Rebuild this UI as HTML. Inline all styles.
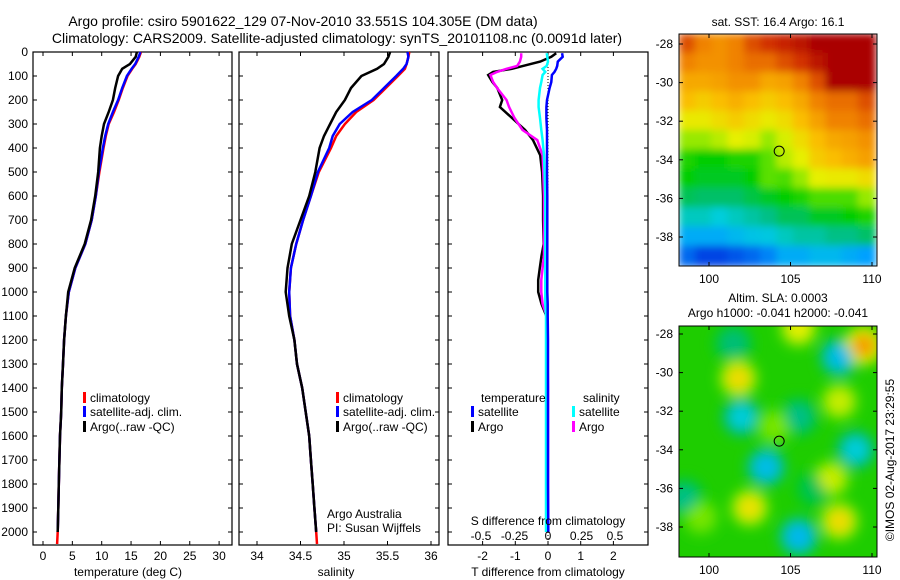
<!DOCTYPE html>
<html><head><meta charset="utf-8"><style>
body{margin:0;background:#fff}
svg{display:block;font-family:"Liberation Sans",sans-serif}
text{fill:#000}
</style></head><body>
<svg id="s" width="900" height="580" viewBox="0 0 900 580">
<defs>
<filter id="bl" x="-5%" y="-5%" width="110%" height="110%"><feGaussianBlur stdDeviation="4"/></filter>
<filter id="bl2" x="-5%" y="-5%" width="110%" height="110%"><feGaussianBlur stdDeviation="6"/></filter>
<clipPath id="c1"><rect x="679" y="34" width="198" height="232"/></clipPath>
<clipPath id="c2"><rect x="679" y="326" width="198" height="231"/></clipPath>
</defs>
<text x="303" y="26" font-size="14" text-anchor="middle">Argo profile: csiro 5901622_129 07-Nov-2010 33.551S 104.305E (DM data)</text>
<text x="337" y="43" font-size="14" text-anchor="middle">Climatology: CARS2009. Satellite-adjusted climatology: synTS_20101108.nc (0.0091d later)</text>
<g id="g"></g>
</svg>
<script>
// ---- data ----
const depths=[0,20,50,70,100,150,200,250,300,350,400,500,600,700,800,900,1000,1100,1200,1300,1400,1500,1600,1700,1800,1900,2000,2050];
const tempClim=[16.7,16.4,15.8,15.2,14.4,13.6,12.9,12.1,11.2,10.7,10.3,9.6,9.0,8.3,7.2,5.5,4.4,3.9,3.6,3.4,3.2,3.1,2.9,2.8,2.7,2.6,2.5,2.4];
const tempSat=[16.6,16.3,15.7,15.1,14.3,13.5,12.8,11.9,11.1,10.6,10.2,9.5,9.0,8.3,7.2,5.5,4.4,3.9,3.6,3.4,3.2,3.1,2.9,2.8,2.7,2.6,2.5,null];
const tempArgo=[16.0,15.8,14.8,13.5,12.8,12.3,11.9,11.2,10.4,10.0,9.7,9.4,8.9,8.2,7.1,5.4,4.3,3.9,3.6,3.4,3.2,3.1,2.9,2.8,2.7,2.6,2.5,null];
const salClim=[35.75,35.74,35.72,35.70,35.62,35.48,35.34,35.14,35.01,34.91,34.85,34.71,34.62,34.53,34.45,34.39,34.37,34.38,34.43,34.46,34.52,34.56,34.6,34.62,34.64,34.66,34.68,34.69];
const salSat=[35.73,35.74,35.72,35.68,35.6,35.46,35.32,35.1,34.95,34.87,34.83,34.70,34.62,34.53,34.45,34.39,34.37,34.38,34.43,34.46,34.52,34.56,34.6,34.62,34.64,34.66,34.68,null];
const salArgo=[35.53,35.51,35.46,35.38,35.2,35.08,35.01,34.91,34.84,34.77,34.72,34.67,34.6,34.5,34.4,34.35,34.33,34.37,34.43,34.46,34.52,34.56,34.6,34.62,34.64,34.66,34.68,null];
const diffDepths=[5,20,40,58,70,83,96,125,150,200,229,275,325,367,430,500,600,700,800,850,900,950,1000,1050,1100,1200,1400,1600,1800,2000];
const dTArgo=[0.25,0.1,-0.24,-0.76,-1.1,-1.68,-1.83,-1.7,-1.55,-1.4,-1.47,-1.1,-0.7,-0.46,-0.24,-0.18,-0.15,-0.15,-0.13,-0.2,-0.25,-0.3,-0.3,-0.2,-0.05,-0.03,-0.02,-0.02,-0.02,-0.02];
const dSArgo=[-0.2,-0.2,-0.21,-0.23,-0.31,-0.38,-0.43,-0.41,-0.38,-0.31,-0.29,-0.25,-0.19,-0.08,-0.04,-0.035,-0.03,-0.03,-0.03,-0.03,-0.04,-0.05,-0.05,-0.04,-0.01,-0.005,0,0,0,0];
const dTSat=[0.43,0.45,0.3,0.28,0.25,0.2,0.12,0.1,0.05,-0.03,-0.05,-0.05,-0.03,-0.03,-0.03,-0.03,-0.02,-0.02,-0.02,-0.02,-0.02,-0.02,-0.02,-0.01,-0.01,0,0,0,0,0.01];
const dSSat=[-0.01,-0.005,0,-0.01,-0.04,-0.02,-0.04,-0.05,-0.06,-0.07,-0.07,-0.06,-0.05,-0.04,-0.03,-0.025,-0.02,-0.02,-0.02,-0.02,-0.02,-0.02,-0.02,-0.02,-0.015,-0.015,-0.015,-0.015,-0.015,-0.015];
const depthTicks=[0,100,200,300,400,500,600,700,800,900,1000,1100,1200,1300,1400,1500,1600,1700,1800,1900,2000];
const tempTicks=[0,5,10,15,20,25,30];
const salTicks=[34,34.5,35,35.5,36];
const dTTicks=[-2,-1,0,1,2];
const dSTicks=[-0.5,-0.25,0,0.25,0.5];
const dSTickLabels=["-0.5","-0.25","0","0.25","0.5"];
const sstGrid=[
[0.85,0.8,0.78,0.8,0.85,0.88,0.9,0.92,0.95,0.95,0.95,0.95],
[0.8,0.78,0.78,0.8,0.82,0.82,0.85,0.88,0.92,0.95,0.95,0.95],
[0.75,0.75,0.76,0.78,0.78,0.75,0.76,0.8,0.85,0.95,0.95,0.95],
[0.72,0.7,0.72,0.74,0.72,0.7,0.72,0.75,0.8,0.82,0.82,0.85],
[0.66,0.66,0.68,0.7,0.68,0.66,0.68,0.72,0.76,0.8,0.8,0.82],
[0.6,0.6,0.62,0.65,0.64,0.6,0.64,0.68,0.72,0.75,0.76,0.78],
[0.52,0.5,0.5,0.52,0.52,0.56,0.62,0.65,0.7,0.72,0.74,0.76],
[0.5,0.48,0.48,0.48,0.5,0.56,0.55,0.6,0.65,0.66,0.66,0.68],
[0.45,0.44,0.44,0.44,0.46,0.48,0.5,0.52,0.55,0.55,0.55,0.6],
[0.38,0.38,0.36,0.38,0.4,0.42,0.45,0.45,0.48,0.48,0.5,0.52],
[0.3,0.3,0.3,0.32,0.34,0.35,0.38,0.4,0.4,0.42,0.42,0.44],
[0.22,0.18,0.18,0.2,0.22,0.25,0.3,0.3,0.32,0.32,0.3,0.28]];
const gridLon0=98.2, gridLat0=-27.5;
const slaBlobLon=[101.5,108,102,105.5,109,103.5,105.5,98.5,106.5,101.8,105.5,109.5,108,104,107.5,102.5,108,99.5];
const slaBlobLat=[-28.5,-29.2,-32.3,-32.3,-34,-34.9,-38.5,-36.5,-36,-30.3,-27.7,-28.6,-31.5,-32.8,-35.5,-37,-37.7,-37.5];
const slaBlobVal=[0.43,0.33,0.36,0.42,0.36,0.33,0.32,0.42,0.45,0.68,0.65,0.76,0.63,0.58,0.63,0.67,0.68,0.58];
const lonTicks=[100,105,110];
const latTicks=[-28,-30,-32,-34,-36,-38];
const argoLon=104.305, argoLat=-33.551;

// ---- helpers ----
const NS="http://www.w3.org/2000/svg", G=document.getElementById('g');
function el(tag,at,parent){const e=document.createElementNS(NS,tag);for(const k in at)e.setAttribute(k,at[k]);(parent||G).appendChild(e);return e;}
function txt(x,y,s,at){const e=el('text',Object.assign({x:x,y:y,'font-size':12},at||{}));e.textContent=s;return e;}
const yD=d=>52+d*0.24;
const xT=v=>43+v*5.87;
const xS=v=>257+(v-34)*87;
const xdT=v=>548+v*32.7;
const xdS=v=>548+v*134;
function line(vals,dep,xf,color,name){
  let p='';vals.forEach((v,i)=>{if(v===null)return;p+=(p?'L':'M')+xf(v).toFixed(1)+' '+yD(dep[i]).toFixed(1);});
  const e=el('path',{d:p,fill:'none',stroke:color,'stroke-width':2.5});
  
  
}
function panel(x0,x1,name,xticks,xf,labels,ylabels){
  const b=el('rect',{x:x0,y:52,width:x1-x0,height:493,fill:'none',stroke:'#000','stroke-width':1.2});
  
  
  depthTicks.forEach(d=>{const y=yD(d);
    el('line',{x1:x0,x2:x0+4,y1:y,y2:y,stroke:'#000'});el('line',{x1:x1-4,x2:x1,y1:y,y2:y,stroke:'#000'});
    if(ylabels){const t=txt(28,y+4,String(d),{'text-anchor':'end'});
      
      }});
  xticks.forEach((v,i)=>{const x=xf(v);
    el('line',{x1:x,x2:x,y1:545,y2:541,stroke:'#000'});el('line',{x1:x,x2:x,y1:52,y2:56,stroke:'#000'});
    const t=txt(x,560,labels[i],{'text-anchor':'middle'});
    
    });
}
function legendEntry(x,y,color,label,name){
  el('rect',{x:x,y:y-10,width:3,height:11,fill:color});
  const t=txt(x+7,y,label);
  
  
}

// ---- panel 1 temperature ----
panel(33,232,'temperature-panel',tempTicks,xT,tempTicks.map(String),true);
line(tempClim,depths,xT,'#ff0000','temp-climatology-line');
line(tempSat,depths,xT,'#0000ff','temp-satellite-line');
line(tempArgo,depths,xT,'#000000','temp-argo-line');
legendEntry(83,402,'#ff0000','climatology','legend-climatology');
legendEntry(83,416,'#0000ff','satellite-adj. clim.','legend-satellite');
legendEntry(83,431,'#000000','Argo(..raw -QC)','legend-argo');
let t=txt(128,576,'temperature (deg C)',{'text-anchor':'middle'});



// ---- panel 2 salinity ----
panel(239,439,'salinity-panel',salTicks,xS,salTicks.map(String),false);
line(salClim,depths,xS,'#ff0000','sal-climatology-line');
line(salSat,depths,xS,'#0000ff','sal-satellite-line');
line(salArgo,depths,xS,'#000000','sal-argo-line');
legendEntry(336,402,'#ff0000','climatology','legend-climatology-2');
legendEntry(336,416,'#0000ff','satellite-adj. clim.','legend-satellite-2');
legendEntry(336,431,'#000000','Argo(..raw -QC)','legend-argo-2');
t=txt(327,518,'Argo Australia');
t=txt(327,532,'PI: Susan Wijffels');
t=txt(336,576,'salinity',{'text-anchor':'middle'});



// ---- panel 3 differences ----
panel(448,648,'difference-panel',dTTicks,xdT,dTTicks.map(String),false);
el('line',{x1:548,x2:548,y1:52,y2:545,stroke:'#000','stroke-dasharray':'1,2'});
line(dTArgo,diffDepths,xdT,'#000000','dT-argo-line');
line(dSArgo,diffDepths,xdS,'#ff00ff','dS-argo-line');
line(dSSat,diffDepths,xdS,'#00ffff','dS-satellite-line');
line(dTSat,diffDepths,xdT,'#0000ff','dT-satellite-line');
t=txt(481,402,'temperature');
t=txt(583,402,'salinity');
legendEntry(471,416,'#0000ff','satellite','legend-t-satellite');
legendEntry(471,431,'#000000','Argo','legend-t-argo');
legendEntry(572,416,'#00ffff','satellite','legend-s-satellite');
legendEntry(572,431,'#ff00ff','Argo','legend-s-argo');
t=txt(548,525,'S difference from climatology',{'text-anchor':'middle'});
dSTicks.forEach((v,i)=>{const e=txt(xdS(v),540,dSTickLabels[i],{'text-anchor':'middle'});
  
  });
t=txt(548,576,'T difference from climatology',{'text-anchor':'middle'});

// ---- maps ----
const cmapStops=[[0,0,0,130],[0.15,0,40,220],[0.28,0,160,255],[0.36,0,205,220],[0.43,0,190,120],[0.5,0,205,0],[0.58,120,230,0],[0.65,230,240,0],[0.72,250,190,0],[0.8,240,130,0],[0.88,210,50,0],[0.95,170,0,0],[1,150,0,0]];
function jet(v){v=Math.max(0,Math.min(1,v));
  for(let i=1;i<cmapStops.length;i++){const a=cmapStops[i-1],b=cmapStops[i];
    if(v<=b[0]){const f=(v-a[0])/(b[0]-a[0]);
      return 'rgb('+[1,2,3].map(k=>Math.round(a[k]+(b[k]-a[k])*f)).join(',')+')';}}
  return 'rgb(150,0,0)';}
function mapAxes(y0,yTop,name){
  const xL=lon=>709+(lon-100)*16.3, yL=lat=>yTop+(-28-lat)*19.3;
  return {xL,yL,draw(){
    const h=(name==='sst-map'?232:231);
    const b=el('rect',{x:679,y:y0,width:198,height:h,fill:'none',stroke:'#000'});
    
    
    const yb=y0+h;
    lonTicks.forEach(l=>{const x=xL(l);el('line',{x1:x,x2:x,y1:yb,y2:yb-4,stroke:'#000'});el('line',{x1:x,x2:x,y1:y0,y2:y0+4,stroke:'#000'});
      const e=txt(x,yb+17,String(l),{'text-anchor':'middle'});
      
      });
    latTicks.forEach(l=>{const y=yL(l);el('line',{x1:679,x2:683,y1:y,y2:y,stroke:'#000'});el('line',{x1:873,x2:877,y1:y,y2:y,stroke:'#000'});
      const e=txt(673,y+4,String(l),{'text-anchor':'end'});
      
      });
    const c=el('ellipse',{cx:xL(argoLon),cy:yL(argoLat),rx:5,ry:5,fill:'none',stroke:'#000'});
    
    
  }};
}
// SST map
const m1=mapAxes(34,44,'sst-map');
const g1=el('g',{'clip-path':'url(#c1)'});
const g1b=el('g',{filter:'url(#bl)'},g1);
sstGrid.forEach((row,r)=>row.forEach((v,c)=>{
  const x=m1.xL(gridLon0+c), y=m1.yL(gridLat0-r);
  const e=el('rect',{x:x-1,y:y-1,width:18.3,height:21.3,fill:jet(v)},g1b);
  
  
}));
m1.draw();
t=txt(778,26,'sat. SST: 16.4 Argo: 16.1',{'text-anchor':'middle'});
// SLA map
const m2=mapAxes(326,334,'sla-map');
const g2=el('g',{'clip-path':'url(#c2)'});
el('rect',{x:679,y:326,width:198,height:231,fill:'rgb(30,205,0)'},g2);
const g2b=el('g',{filter:'url(#bl2)'},g2);
slaBlobLon.forEach((lon,i)=>{
  const v=slaBlobVal[i];
  const halo=el('circle',{cx:m2.xL(lon),cy:m2.yL(slaBlobLat[i]),r:20,fill:jet(0.5+(v-0.5)*0.5)},g2b);
  
  
});
slaBlobLon.forEach((lon,i)=>{
  const e=el('circle',{cx:m2.xL(lon),cy:m2.yL(slaBlobLat[i]),r:12,fill:jet(slaBlobVal[i])},g2b);
  
  
});
m2.draw();
t=txt(778,302,'Altim. SLA: 0.0003',{'text-anchor':'middle'});
t=txt(778,317,'Argo h1000: -0.041 h2000: -0.041',{'text-anchor':'middle'});
t=txt(894,460,'\u00A9IMOS 02-Aug-2017 23:29:55',{'text-anchor':'middle',transform:'rotate(-90 894 460)'});


</script>
</body></html>
